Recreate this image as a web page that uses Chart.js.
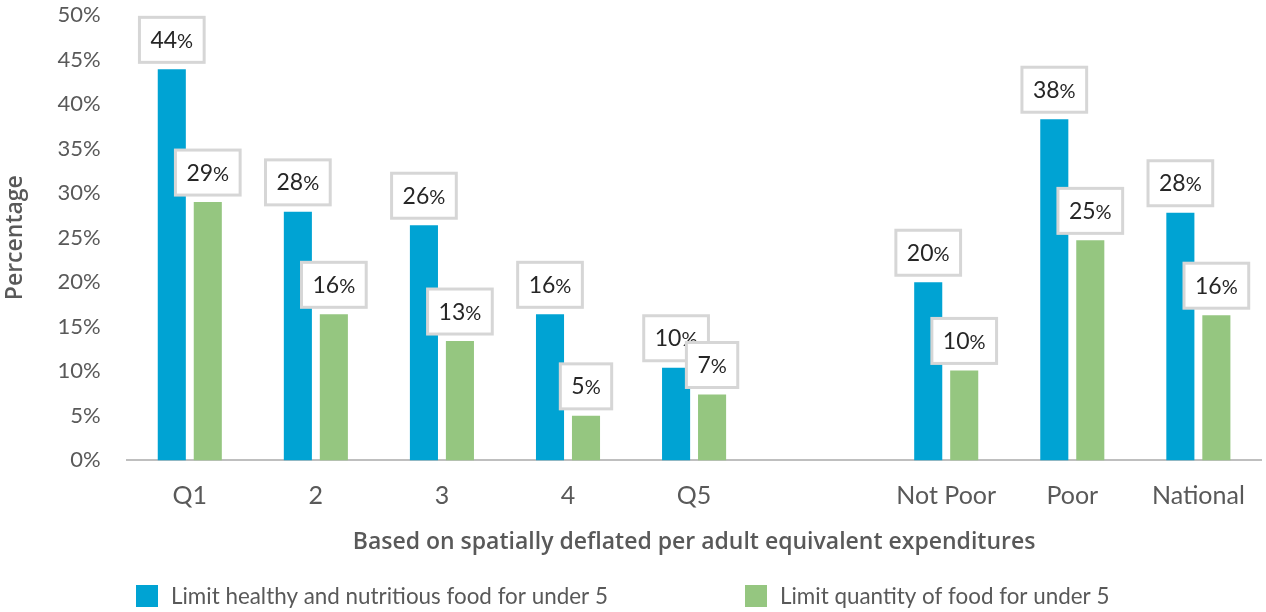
<!DOCTYPE html>
<html>
<head>
<meta charset="utf-8">
<script src="https://cdn.jsdelivr.net/npm/chart.js@4.4.1/dist/chart.umd.min.js"></script>
<style>
  html, body { margin: 0; padding: 0; background: #fff; }
  #wrap { width: 1266px; height: 612px; position: relative; }
</style>
</head>
<body>
<div id="wrap"><canvas id="chart"></canvas></div>
<script>
const categories = ['Q1', '2', '3', '4', 'Q5', '', 'Not Poor', 'Poor', 'National'];
const healthyValues = [43.9, 27.9, 26.4, 16.4, 10.4, null, 20.0, 38.3, 27.8];
const quantityValues = [29.0, 16.4, 13.4, 5.0, 7.4, null, 10.1, 24.7, 16.3];
const yTicks = [0, 5, 10, 15, 20, 25, 30, 35, 40, 45, 50];
const seriesNames = ['Limit healthy and nutritious food for under 5', 'Limit quantity of food for under 5'];

const BLUE = '#00a3d3';
const GREEN = '#95c680';
const GREY = '#595959';

// boxed value labels above each bar
const boxLabels = {
    id: 'boxLabels',
    afterDatasetsDraw(chart) {
        const ctx = chart.ctx;
        ctx.save();
        chart.data.datasets.forEach((ds, di) => {
            chart.getDatasetMeta(di).data.forEach((bar, i) => {
                const v = ds.data[i];
                if (v == null) return;
                const num = String(Math.round(v));
                ctx.font = '23px Lato';
                const wNum = ctx.measureText(num).width;
                ctx.font = '20px Lato';
                const wPct = ctx.measureText('%').width;
                const w = wNum + wPct + 22;
                const h = 45;
                const x = bar.x - w / 2;
                const y = bar.y - 7 - h;
                ctx.fillStyle = '#fff';
                ctx.fillRect(x, y, w, h);
                ctx.strokeStyle = '#d6d6d6';
                ctx.lineWidth = 3;
                ctx.strokeRect(x, y, w, h);
                ctx.fillStyle = '#262626';
                ctx.textBaseline = 'alphabetic';
                ctx.textAlign = 'left';
                const tx = bar.x - (wNum + wPct) / 2;
                ctx.font = '23px Lato';
                ctx.fillText(num, tx, y + h / 2 + 8);
                ctx.font = '20px Lato';
                ctx.fillText('%', tx + wNum, y + h / 2 + 8);
            });
        });
        ctx.restore();
    }
};

// legend drawn along the bottom
const bottomLegend = {
    id: 'bottomLegend',
    afterDraw(chart) {
        const ctx = chart.ctx;
        const xs = [136, 745];
        const y = 596;
        ctx.save();
        ctx.font = '22.4px Lato';
        ctx.textBaseline = 'middle';
        ctx.textAlign = 'left';
        chart.data.datasets.forEach((ds, i) => {
            ctx.fillStyle = ds.backgroundColor;
            ctx.fillRect(xs[i], y - 11, 22, 22);
            ctx.fillStyle = GREY;
            ctx.fillText(ds.label, xs[i] + 35, y + 1);
        });
        ctx.restore();
    }
};

new Chart(document.getElementById('chart'), {
    type: 'bar',
    data: {
        labels: categories,
        datasets: [
            { label: seriesNames[0], data: healthyValues, backgroundColor: BLUE },
            { label: seriesNames[1], data: quantityValues, backgroundColor: GREEN }
        ]
    },
    options: {
        responsive: true,
        maintainAspectRatio: false,
        animation: false,
        datasets: { bar: { categoryPercentage: 0.571, barPercentage: 0.78 } },
        layout: { padding: { left: 2, right: 4, top: 15, bottom: 56 } },
        plugins: {
            legend: { display: false },
            tooltip: { enabled: false }
        },
        scales: {
            x: {
                grid: { display: false, drawTicks: false },
                border: { color: '#bfbfbf', width: 2 },
                ticks: { color: GREY, font: { family: 'Lato', size: 25 }, padding: 21, maxRotation: 0, autoSkip: false },
                title: {
                    display: true,
                    text: 'Based on spatially deflated per adult equivalent expenditures',
                    color: GREY,
                    font: { family: 'Open Sans', size: 23, weight: '600' },
                    padding: { top: -4, bottom: 0 }
                }
            },
            y: {
                min: 0,
                max: 50,
                afterBuildTicks: axis => { axis.ticks = yTicks.map(v => ({ value: v })); },
                // tick padding would otherwise push the plot top down
                afterFit: axis => { axis.paddingTop = 0; axis.paddingBottom = 0; },
                grid: { display: false, drawTicks: false },
                border: { display: false },
                ticks: { color: GREY, font: { family: 'Lato', size: 22 }, padding: 26, callback: v => v + '%' },
                title: {
                    display: true,
                    text: 'Percentage',
                    color: GREY,
                    font: { family: 'Open Sans', size: 23, weight: '600' },
                    padding: { top: 0, bottom: 2 }
                }
            }
        }
    },
    plugins: [boxLabels, bottomLegend]
});
</script>
</body>
</html>
